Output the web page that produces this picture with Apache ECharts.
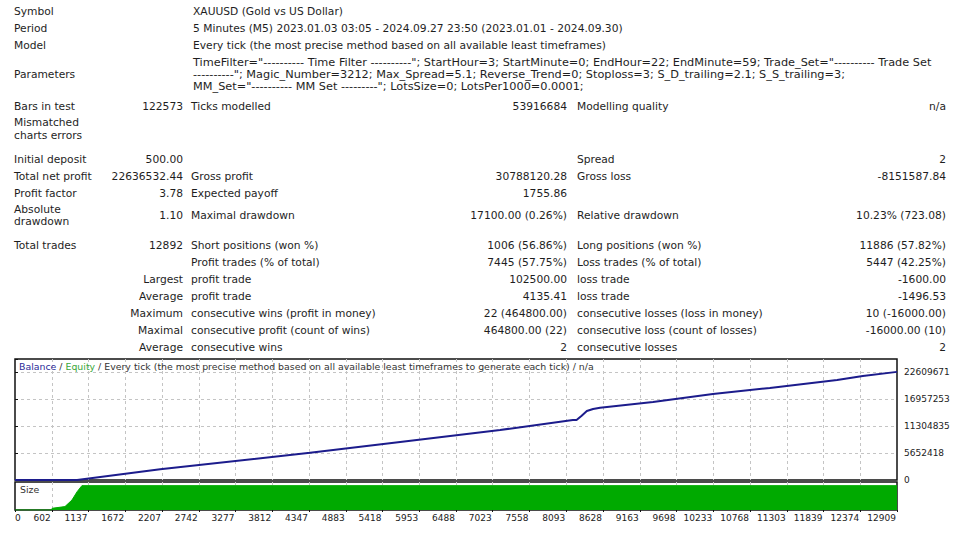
<!DOCTYPE html>
<html><head><meta charset="utf-8">
<script src="https://cdn.jsdelivr.net/npm/echarts@6/dist/echarts.min.js"></script>
<style>html,body{margin:0;padding:0;background:#fff}#c{width:960px;height:540px}</style>
</head><body><div id="c"></div>
<script>
// ---------- data ----------
const headerLabels = ['Symbol', 'Period', 'Model', 'Parameters'];
const headerValues = [
  'XAUUSD (Gold vs US Dollar)',
  '5 Minutes (M5) 2023.01.03 03:05 - 2024.09.27 23:50 (2023.01.01 - 2024.09.30)',
  'Every tick (the most precise method based on all available least timeframes)'
];
const parameterLines = [
  'TimeFilter="---------- Time Filter ----------"; StartHour=3; StartMinute=0; EndHour=22; EndMinute=59; Trade_Set="---------- Trade Set',
  '----------"; Magic_Number=3212; Max_Spread=5.1; Reverse_Trend=0; Stoploss=3; S_D_trailing=2.1; S_S_trailing=3;',
  'MM_Set="---------- MM Set ---------"; LotsSize=0; LotsPer1000=0.0001;'
];
const statLabels1 = ['Bars in test', 'Mismatched\ncharts errors', 'Initial deposit', 'Total net profit', 'Profit factor', 'Absolute\ndrawdown', 'Total trades', '', '', '', '', '', ''];
const statValues1 = ['122573', '', '500.00', '22636532.44', '3.78', '1.10', '12892', '', 'Largest', 'Average', 'Maximum', 'Maximal', 'Average'];
const statLabels2 = ['Ticks modelled', '', '', 'Gross profit', 'Expected payoff', 'Maximal drawdown', 'Short positions (won %)', 'Profit trades (% of total)', 'profit trade', 'profit trade', 'consecutive wins (profit in money)', 'consecutive profit (count of wins)', 'consecutive wins'];
const statValues2 = ['53916684', '', '', '30788120.28', '1755.86', '17100.00 (0.26%)', '1006 (56.86%)', '7445 (57.75%)', '102500.00', '4135.41', '22 (464800.00)', '464800.00 (22)', '2'];
const statLabels3 = ['Modelling quality', '', 'Spread', 'Gross loss', '', 'Relative drawdown', 'Long positions (won %)', 'Loss trades (% of total)', 'loss trade', 'loss trade', 'consecutive losses (loss in money)', 'consecutive loss (count of losses)', 'consecutive losses'];
const statValues3 = ['n/a', '', '2', '-8151587.84', '', '10.23% (723.08)', '11886 (57.82%)', '5447 (42.25%)', '-1600.00', '-1496.53', '10 (-16000.00)', '-16000.00 (10)', '2'];

const chartTitle = ['Balance', 'Equity', 'Every tick (the most precise method based on all available least timeframes to generate each tick) / n/a'];
const xTickLabels = ['0', '602', '1137', '1672', '2207', '2742', '3277', '3812', '4347', '4883', '5418', '5953', '6488', '7023', '7558', '8093', '8628', '9163', '9698', '10233', '10768', '11303', '11839', '12374', '12909'];
const yTickLabels = ['0', '5652418', '11304835', '16957253', '22609671'];
const yTickStep = 5652418;
// balance curve, x in axis-division units (one division per x tick label)
const balanceX = [0, 1.69, 3.95, 8.03, 10.48, 13.2, 15.18, 15.28, 15.42, 15.56, 15.73, 15.92, 17.36, 18.99, 20.54, 22.37, 23.07, 24];
const balanceValues = [500, 500, 2240000, 5710000, 7950000, 10470000, 12560000, 12560000, 13460000, 14440000, 14860000, 15130000, 16330000, 18000000, 19260000, 20930000, 21770000, 22637032];
// lot size (relative, % of maximum)
const sizeX = [0, 1.0, 1.01, 1.36, 1.55, 1.69, 1.82, 24];
const sizeValues = [0, 0, 7, 14, 41, 75, 100, 100];

// ---------- layout ----------
const FONT = '"DejaVu Sans", Verdana, sans-serif';
const TXT = '#1e1e1e';
const fs = 10.7;
const g = [];
function txt(x, y, s, align, size, lh) {
  if (!s) return;
  g.push({ type: 'text', x: x, y: y, silent: true,
    style: { text: s, fill: TXT, font: (size || fs) + 'px ' + FONT,
      textAlign: align, align: align, textVerticalAlign: 'middle', verticalAlign: 'middle',
      lineHeight: lh || 12 } });
}
const C1 = 14, C2 = 183, C3 = 191, C4 = 567, C5 = 577, C6 = 946, HV = 193;
const headerY = [11, 28, 45, 74];
headerLabels.forEach((t, i) => txt(C1, headerY[i], t, 'left'));
headerValues.forEach((t, i) => txt(HV, headerY[i], t, 'left'));
parameterLines.forEach((t, i) => txt(HV, 62 + i * 12, t, 'left', 11.3));
const statY = [106, 129, 159, 176, 193, 215.5, 245, 262, 279, 296, 313, 330, 347];
statY.forEach((y, i) => {
  txt(C1, y, statLabels1[i], 'left', fs, 12.5);
  txt(C2, y, statValues1[i], 'right');
  txt(C3, y, statLabels2[i], 'left');
  txt(C4, y, statValues2[i], 'right');
  txt(C5, y, statLabels3[i], 'left');
  txt(C6, y, statValues3[i], 'right');
});
// chart title
const TF = '9.4px ' + FONT;
g.push({ type: 'text', x: 19, y: 366, silent: true, z: 100,
  style: { text: '{a|' + chartTitle[0] + '} / {b|' + chartTitle[1] + '} / ' + chartTitle[2],
    font: TF, fill: '#333', textVerticalAlign: 'middle', verticalAlign: 'middle',
    rich: { a: { fill: '#2b2b9a', font: TF }, b: { fill: '#3aa83a', font: TF } } } });
g.push({ type: 'text', x: 20, y: 489, silent: true, z: 100,
  style: { text: 'Size', font: TF, fill: '#333', textVerticalAlign: 'middle', verticalAlign: 'middle' } });

const GL = 15, GR = 63;
const mainTop = 359, mainH = 121;
const yMax = yTickStep * 4 * mainH / 108;
const dash = { color: '#c4c4c4', width: 1, type: [3, 3] };

const option = {
  animation: false,
  backgroundColor: '#fff',
  graphic: { elements: g },
  grid: [
    { left: GL, right: GR, top: mainTop, height: mainH, show: true, borderColor: '#111', borderWidth: 1.5, backgroundColor: 'transparent' },
    { left: GL, right: GR, top: 482, height: 28, show: true, borderColor: '#111', borderWidth: 1.5, backgroundColor: 'transparent' }
  ],
  xAxis: [
    { gridIndex: 0, type: 'value', min: 0, max: 24, interval: 1,
      axisLine: { show: false }, axisTick: { show: false }, axisLabel: { show: false },
      splitLine: { show: true, showMinLine: false, showMaxLine: false, lineStyle: dash } },
    { gridIndex: 1, type: 'value', min: 0, max: 24, interval: 1,
      axisLine: { show: false },
      axisTick: { show: true, length: 2, lineStyle: { color: '#111' } },
      axisLabel: { show: true, margin: 3, fontSize: 9, fontFamily: FONT, color: '#222',
        align: 'right', alignMinLabel: 'left', padding: [0, 1, 0, 0],
        formatter: v => xTickLabels[Math.round(v)] || '' },
      splitLine: { show: true, showMinLine: false, showMaxLine: false, lineStyle: dash } }
  ],
  yAxis: [
    { gridIndex: 0, type: 'value', position: 'right', min: 0, max: yMax, interval: yTickStep,
      axisLine: { show: false },
      axisTick: { show: true, length: 3, lineStyle: { color: '#111' } },
      axisLabel: { margin: 7, fontSize: 9, fontFamily: FONT, color: '#222',
        formatter: v => { const k = v / yTickStep; return Math.abs(k - Math.round(k)) < 1e-6 ? (yTickLabels[Math.round(k)] || '') : ''; } },
      splitLine: { show: true, showMinLine: false, showMaxLine: false, lineStyle: dash } },
    { gridIndex: 1, type: 'value', min: 0, max: 115, show: false, splitLine: { show: false } }
  ],
  series: [
    { type: 'line', name: 'Size', xAxisIndex: 1, yAxisIndex: 1, symbol: 'none', silent: true,
      data: sizeX.map((x, i) => [x, sizeValues[i]]),
      lineStyle: { color: '#00aa00', width: 1 }, areaStyle: { color: '#00aa00', opacity: 1 } },
    { type: 'line', name: 'Balance', xAxisIndex: 0, yAxisIndex: 0, symbol: 'none', silent: true, z: 5,
      data: balanceX.map((x, i) => [x, balanceValues[i]]),
      lineStyle: { color: '#1c1c8c', width: 2 } }
  ]
};
const chart = echarts.init(document.getElementById('c'), null, { renderer: 'svg' });
chart.setOption(option);
</script>
</body></html>
